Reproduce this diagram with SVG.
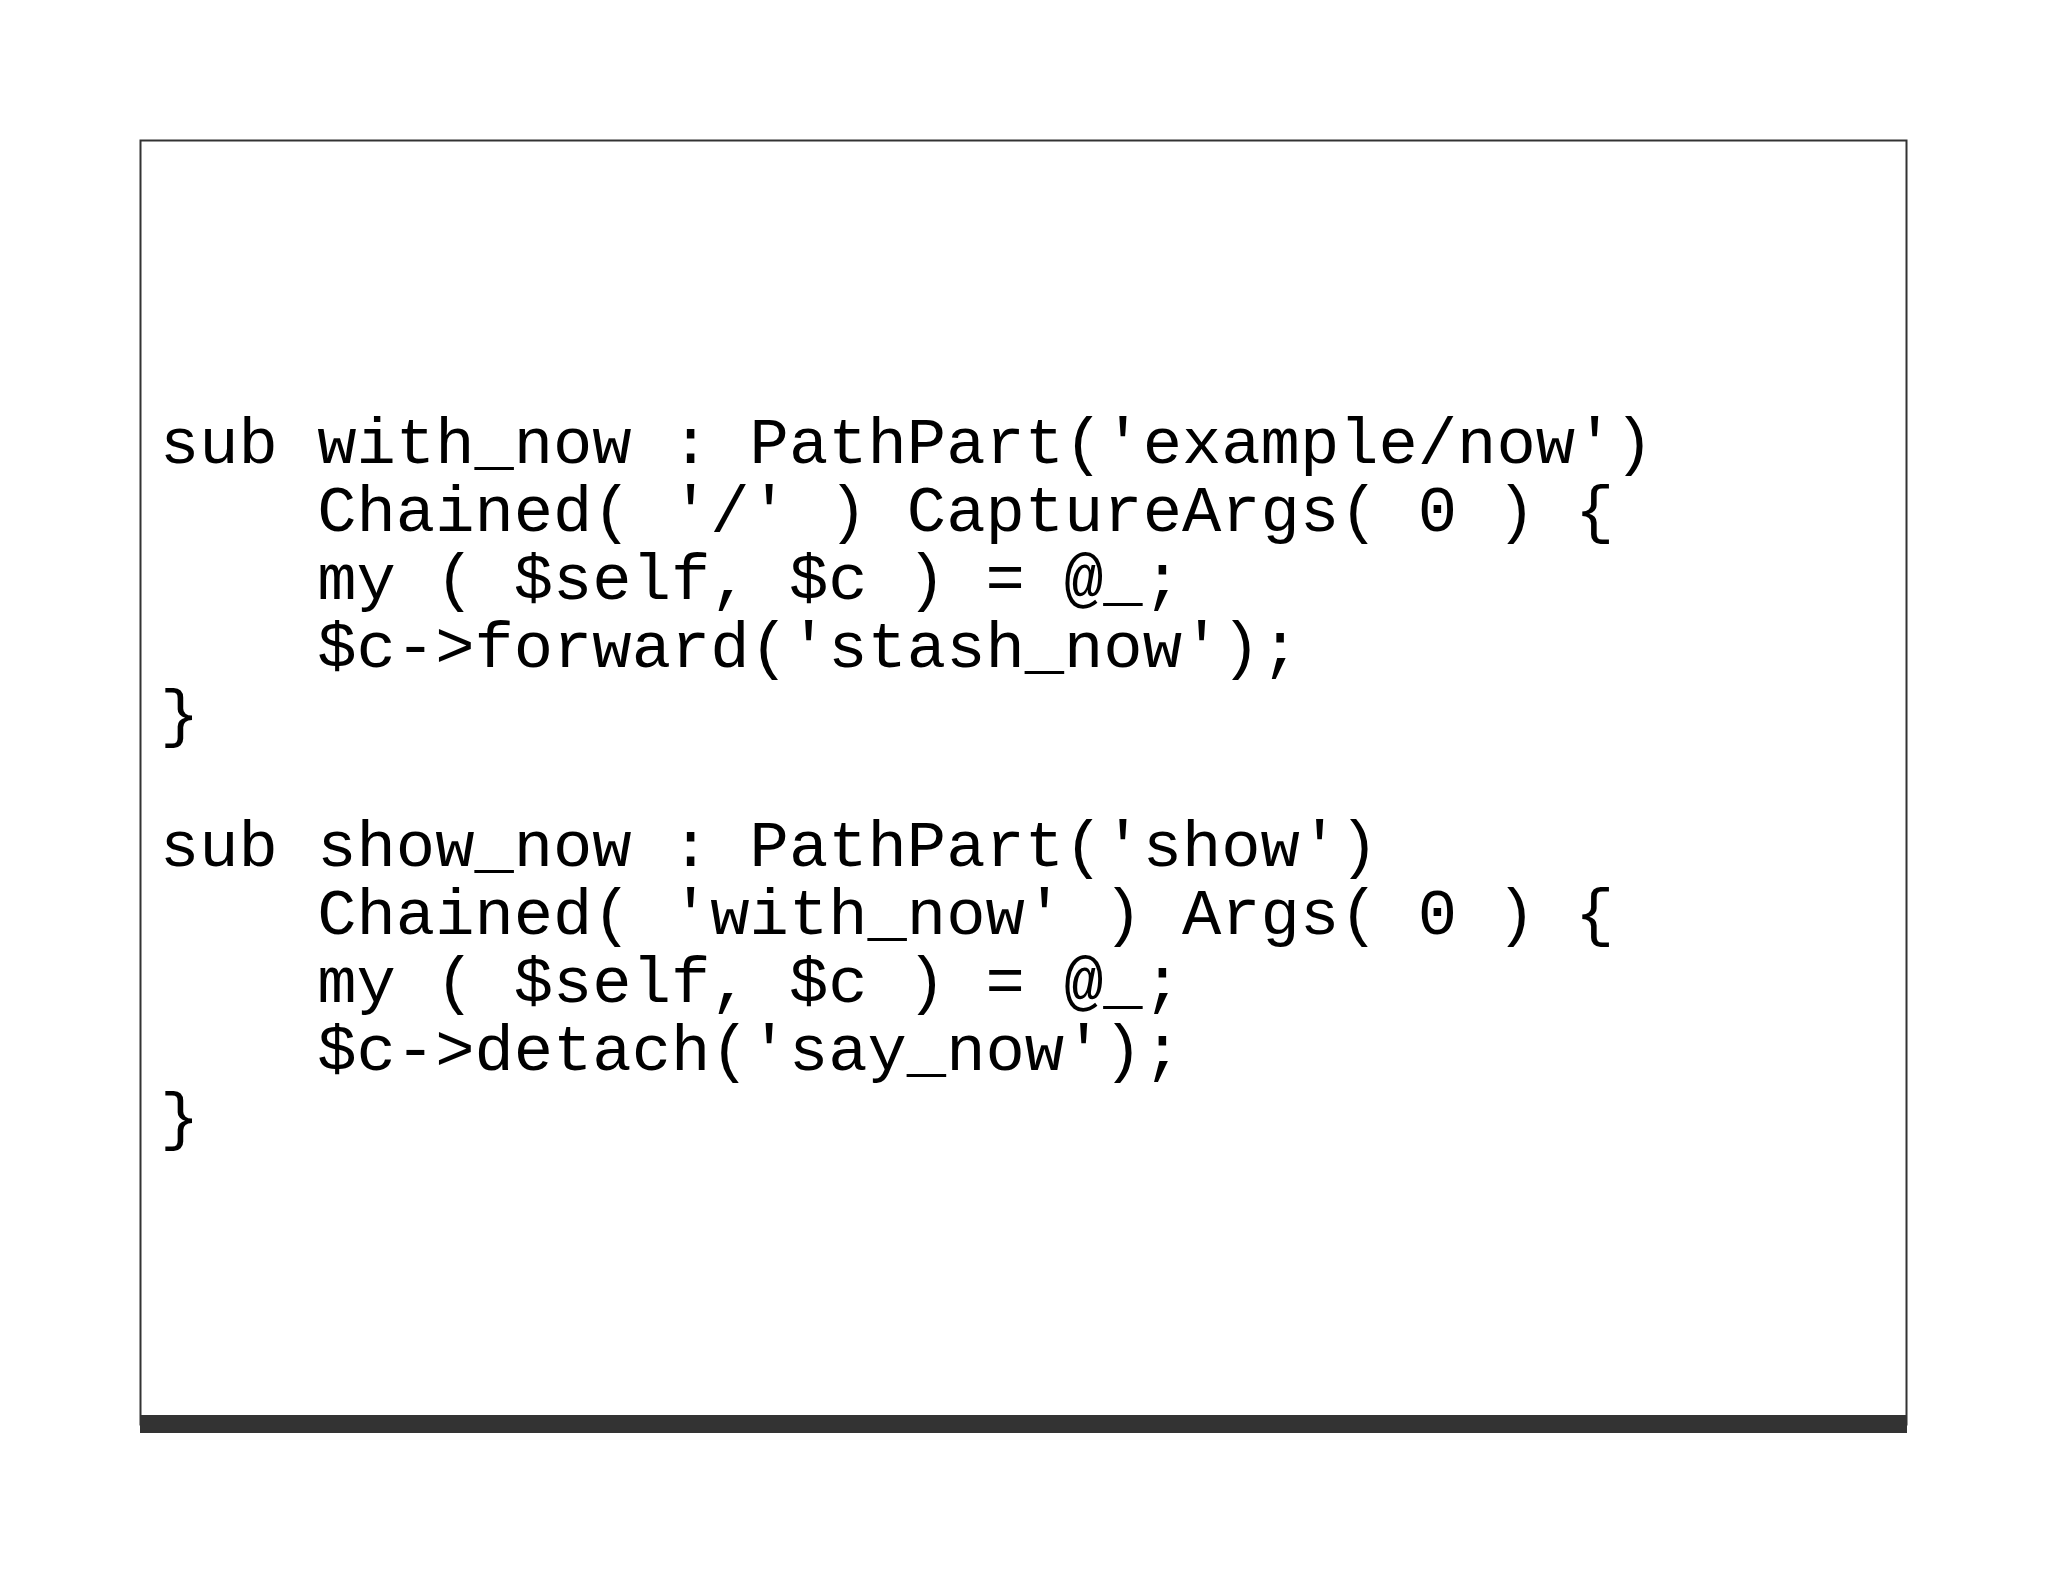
<svg xmlns="http://www.w3.org/2000/svg" width="2048" height="1582" viewBox="0 0 2048 1582">
<style>
text{font-family:"Liberation Mono","Courier New",monospace;font-size:65.5px;fill:#000;white-space:pre}
</style>
<rect width="2048" height="1582" fill="#fff"/>
<g id="frame">
<rect x="140.5" y="140.5" width="1766" height="1284" fill="#fff" stroke="#333" stroke-width="2"/>
<rect x="140" y="1415" width="1767" height="18" fill="#333"/>
</g>
<g id="code">
<text x="160" y="463" xml:space="preserve">sub with_now : PathPart('example/now')</text>
<text x="160" y="531" xml:space="preserve">    Chained( '/' ) CaptureArgs( 0 ) {</text>
<text x="160" y="599" xml:space="preserve">    my ( $self, $c ) = @_;</text>
<text x="160" y="667" xml:space="preserve">    $c->forward('stash_now');</text>
<text x="160" y="735" xml:space="preserve">}</text>
<text x="160" y="866" xml:space="preserve">sub show_now : PathPart('show')</text>
<text x="160" y="934" xml:space="preserve">    Chained( 'with_now' ) Args( 0 ) {</text>
<text x="160" y="1002" xml:space="preserve">    my ( $self, $c ) = @_;</text>
<text x="160" y="1070" xml:space="preserve">    $c->detach('say_now');</text>
<text x="160" y="1138" xml:space="preserve">}</text>
</g>
</svg>
